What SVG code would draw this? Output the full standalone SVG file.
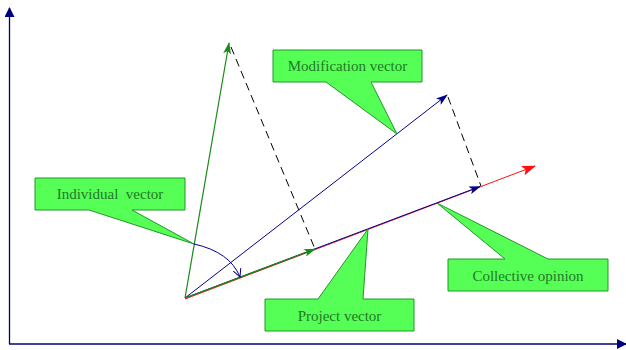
<svg xmlns="http://www.w3.org/2000/svg" width="626" height="350" viewBox="0 0 626 350">
<style>
.box{fill:#55ff55;stroke:#22962a;stroke-width:1}
.lbl{font-family:"Liberation Serif","Times New Roman",serif;font-size:15px;fill:#24782a;text-anchor:middle}
.ax{stroke:#00007f;stroke-width:1.3;fill:none}
.vb{stroke:#00008b;stroke-width:1;fill:none}
.vg{stroke:#1a8a1a;stroke-width:1.2;fill:none}
.vr{stroke:#ff1010;stroke-width:1;fill:none}
.dash{stroke:#000;stroke-width:1;stroke-dasharray:8,5;fill:none}
</style>
<defs>
<marker id="mAx" markerWidth="10" markerHeight="10" refX="9" refY="5" orient="auto" markerUnits="userSpaceOnUse"><path d="M0,0 L10,5 L0,10 Z" fill="#00007f"/></marker>
<marker id="mB" markerWidth="12" markerHeight="8" refX="11" refY="4" orient="auto" markerUnits="userSpaceOnUse"><path d="M0,0 L12,4 L0,8 L3,4 Z" fill="#00008b"/></marker>
<marker id="mG" markerWidth="12" markerHeight="8" refX="11" refY="4" orient="auto" markerUnits="userSpaceOnUse"><path d="M0,0 L12,4 L0,8 L3,4 Z" fill="#1a8a1a"/></marker>
<marker id="mR" markerWidth="14" markerHeight="10" refX="13" refY="5" orient="auto" markerUnits="userSpaceOnUse"><path d="M0,0 L14,5 L0,10 L3,5 Z" fill="#ff1010"/></marker>
<marker id="mOpen" markerWidth="10" markerHeight="10" refX="8" refY="5" orient="auto" markerUnits="userSpaceOnUse"><path d="M0,1 L8,5 L0,9" fill="none" stroke="#00008b" stroke-width="1"/></marker>
</defs>
<g id="axes">
<line class="ax" x1="9.5" y1="344" x2="9.5" y2="8" marker-end="url(#mAx)"/>
<line class="ax" x1="9" y1="344" x2="626" y2="344" marker-end="url(#mAx)"/>
</g>
<g id="connectors">
<line class="dash" x1="231" y1="47" x2="315" y2="249"/>
<line class="dash" x1="448" y1="97" x2="481" y2="186"/>
<line class="vr" x1="185" y1="299" x2="535" y2="166" marker-end="url(#mR)"/>
<line class="vg" x1="185" y1="298" x2="229" y2="43" marker-end="url(#mG)"/>
<line class="vb" x1="185" y1="298" x2="447" y2="95" marker-end="url(#mB)"/>
<line class="vb" x1="185" y1="298" x2="480" y2="186.5" stroke-width="1.3" marker-end="url(#mB)"/>
<line class="vg" x1="185" y1="298" x2="315" y2="249" stroke="#116a11" marker-end="url(#mG)"/>
<path class="vb" d="M194,244 Q230,252 240,277" marker-end="url(#mOpen)"/>
</g>
<g id="modification">
<path class="box" d="M273,50 H422 V82 H371 L397,134 L326,82 H273 Z"/>
<text class="lbl" x="347.5" y="71">Modification vector</text>
</g>
<g id="individual">
<path class="box" d="M35,178 H185 V210 H132 L194,244 L89,210 H35 Z"/>
<text class="lbl" x="110" y="199" xml:space="preserve">Individual  vector</text>
</g>
<g id="project">
<path class="box" d="M265,299 H318 L368,229 L363,299 H414 V331 H265 Z"/>
<text class="lbl" x="339.5" y="321">Project vector</text>
</g>
<g id="collective">
<path class="box" d="M448,259 H505 L437,203 L548,259 H608 V291 H448 Z"/>
<text class="lbl" x="528" y="281">Collective opinion</text>
</g>
</svg>
